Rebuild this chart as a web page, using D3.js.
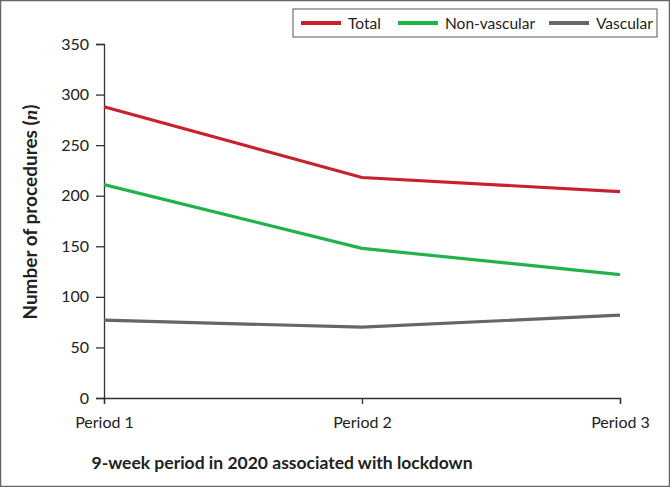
<!DOCTYPE html>
<html lang='en'>
<head>
<meta charset='utf-8'>
<title>Procedures per period</title>
<script src='https://cdn.jsdelivr.net/npm/d3@7'></script>
<style>
  body { margin: 0; background: #fff; }
  text { font-family: Lato, 'Open Sans', sans-serif; fill: #222; }
</style>
</head>
<body>
<script>
var periods = ['Period 1', 'Period 2', 'Period 3'];
var total = [288, 218, 204];
var nonVascular = [211, 148, 122];
var vascular = [77, 70, 82];
var yTicks = [0, 50, 100, 150, 200, 250, 300, 350];
var seriesNames = ['Total', 'Non-vascular', 'Vascular'];
var seriesColors = ['#c8202e', '#22b24c', '#666666'];

var width = 670, height = 487;
var padLeft = 104, padRight = 620, padTop = 44, padBottom = 398;
var fontFam = "Lato, 'Open Sans', sans-serif";

var svg = d3.select('body').append('svg').attr('width', width).attr('height', height);

svg.append('rect').attr('x', 0.5).attr('y', 0.5).attr('width', width - 1).attr('height', height - 1)
  .attr('fill', '#fff').attr('stroke', '#666').attr('stroke-width', 1.5);

var x = d3.scalePoint().domain(periods).range([padLeft, padRight]);
var y = d3.scaleLinear().domain([0, 350]).range([padBottom, padTop]);

var xAxis = svg.append('g').attr('transform', 'translate(0,' + padBottom + ')')
  .call(d3.axisBottom(x).tickSizeOuter(0).tickSize(6).tickPadding(10));
var yAxis = svg.append('g').attr('transform', 'translate(' + padLeft + ',0)')
  .call(d3.axisLeft(y).tickValues(yTicks).tickSizeOuter(0).tickSize(8).tickPadding(7));

xAxis.attr('font-family', fontFam).attr('font-size', 16);
yAxis.attr('font-family', fontFam).attr('font-size', 16);
[xAxis, yAxis].forEach(function(a) {
  a.selectAll('path, line').attr('stroke', '#333').attr('stroke-width', 1.3);
  a.selectAll('text').attr('fill', '#222');
});
xAxis.selectAll('text').attr('dy', '0.9em');

var data = [total, nonVascular, vascular];
var line = d3.line().x(function(d, i) { return x(periods[i]); }).y(function(d) { return y(d); });

svg.selectAll('.series').data(data).enter().append('path')
  .attr('d', line).attr('fill', 'none')
  .attr('stroke', function(d, i) { return seriesColors[i]; })
  .attr('stroke-width', 3.2);

// legend
svg.append('rect').attr('x', 293).attr('y', 9).attr('width', 364).attr('height', 28)
  .attr('fill', '#fff').attr('stroke', '#555').attr('stroke-width', 1);
var legendX = [301, 398, 549];
seriesNames.forEach(function(n, i) {
  svg.append('line').attr('x1', legendX[i]).attr('x2', legendX[i] + 40).attr('y1', 23).attr('y2', 23)
    .attr('stroke', seriesColors[i]).attr('stroke-width', 4);
  svg.append('text').attr('x', legendX[i] + 47).attr('y', 28.5).attr('font-size', 15.5).text(n);
});

// axis titles
svg.append('text').attr('x', 282).attr('y', 469).attr('text-anchor', 'middle')
  .attr('font-size', 17.5).attr('font-weight', 'bold')
  .text('9-week period in 2020 associated with lockdown');

var yt = svg.append('text').attr('transform', 'translate(37,' + 212 + ')rotate(-90)')
  .attr('text-anchor', 'middle').attr('font-size', 19).attr('font-weight', 'bold');
yt.append('tspan').text('Number of procedures (');
yt.append('tspan').style('font-family', "'Liberation Serif', serif").attr('font-style', 'italic').text('n');
yt.append('tspan').text(')');
</script>
</body>
</html>
